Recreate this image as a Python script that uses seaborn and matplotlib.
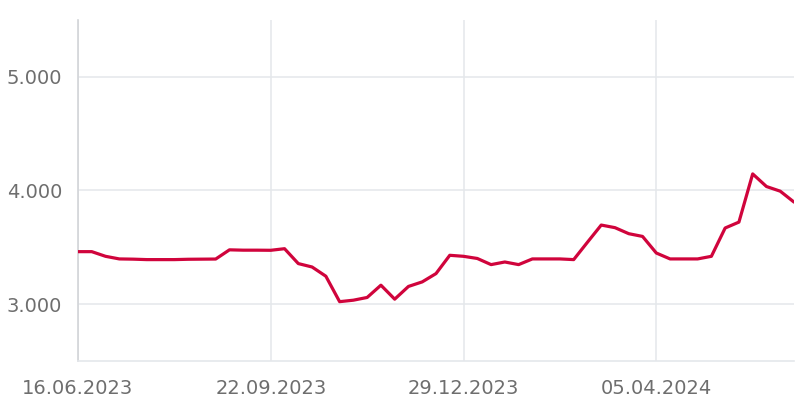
import matplotlib
matplotlib.use("Agg")
import matplotlib.pyplot as plt
import seaborn as sns
import pandas as pd
import numpy as np

# ---- data ----
start_date = "2023-06-16"
n_weeks = 53
values = [
    3462, 3462, 3421, 3398, 3396, 3392, 3392, 3392, 3395, 3396,
    3397, 3478, 3475, 3475, 3474, 3488, 3357, 3327, 3246, 3022,
    3035, 3059, 3167, 3044, 3156, 3196, 3269, 3430, 3421, 3402,
    3348, 3371, 3348, 3398, 3398, 3398, 3392, 3545, 3696, 3673,
    3620, 3596, 3450, 3398, 3398, 3398, 3421, 3670, 3722, 4146,
    4035, 3994, 3898,
]
tick_labels = ["16.06.2023", "22.09.2023", "29.12.2023", "05.04.2024"]
y_ticks = [3000, 4000, 5000]
y_tick_labels = ["3.000", "4.000", "5.000"]
y_range = (2500, 5500)

dates = pd.date_range(start_date, periods=n_weeks, freq="7D")
df = pd.DataFrame({"date": dates, "value": values})

sns.set_theme(style="white")
plt.rcParams["font.family"] = ["DejaVu Sans"]

fig = plt.figure(figsize=(8.07, 4.03), dpi=100)
ax = fig.add_axes([78 / 807, 42 / 403, (794 - 78) / 807, (361 - 20) / 403])

grid_c = "#e4e7eb"
text_c = "#6e6e6e"

sns.lineplot(data=df, x="date", y="value", ax=ax, color="#d0043c",
             linewidth=2.3, zorder=3)

tick_pos = pd.to_datetime(tick_labels, format="%d.%m.%Y")
ax.set_xticks(tick_pos)
ax.set_xticklabels(tick_labels)
ax.set_yticks(y_ticks)
ax.set_yticklabels(y_tick_labels)
ax.set_xlim(dates[0], dates[-1])
ax.set_ylim(*y_range)
ax.set_xlabel("")
ax.set_ylabel("")

ax.grid(True, color=grid_c, linewidth=1.1, zorder=0)
for s in ["top", "right"]:
    ax.spines[s].set_visible(False)
ax.spines["left"].set_color("#d2d4d8")
ax.spines["left"].set_linewidth(1.2)
ax.spines["bottom"].set_color(grid_c)
ax.spines["bottom"].set_linewidth(1.2)

ax.tick_params(axis="both", which="both", length=9, width=1.1, color=grid_c,
               labelcolor=text_c, labelsize=14)
ax.tick_params(axis="x", pad=4)
ax.tick_params(axis="y", pad=2.5)

fig.savefig("out.png", dpi=100)
